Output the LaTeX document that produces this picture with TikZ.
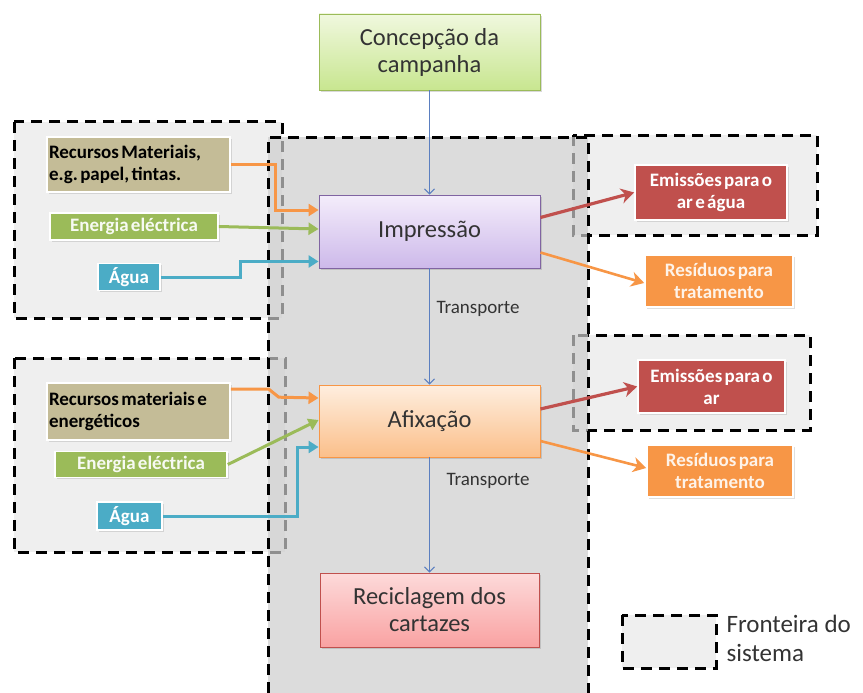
\documentclass[tikz,border=0pt]{standalone}
\usepackage{fontspec}
\setmainfont{Carlito}[BoldFeatures={WordSpace=0.55}]
\usetikzlibrary{arrows.meta,calc,shadows}

\definecolor{bgbound}{HTML}{EFEFEF}
\definecolor{midgray}{HTML}{CDCDCD}
\definecolor{grnedge}{HTML}{9BBB59}
\definecolor{grntop}{HTML}{F0F8DE}
\definecolor{grnbot}{HTML}{C8E690}
\definecolor{purpedge}{HTML}{8064A2}
\definecolor{purptop}{HTML}{F4EDFB}
\definecolor{purpbot}{HTML}{CDB9EA}
\definecolor{orgedge}{HTML}{F79646}
\definecolor{orgtop}{HTML}{FEEEDF}
\definecolor{orgbot}{HTML}{FBBF8A}
\definecolor{rededge}{HTML}{C0504D}
\definecolor{redtop}{HTML}{FDDADA}
\definecolor{redbot}{HTML}{F9A2A2}
\definecolor{khaki}{HTML}{C4BC97}
\definecolor{olive}{HTML}{9BBB59}
\definecolor{teal}{HTML}{4BACC6}
\definecolor{brick}{HTML}{C0504D}
\definecolor{tangerine}{HTML}{F79646}
\definecolor{flowblue}{HTML}{5B7FC0}
\definecolor{maintext}{HTML}{333333}

\begin{document}
\begin{tikzpicture}[x=1pt,y=-1pt,
  bound/.style={draw=black, line width=3pt, dash pattern=on 11pt off 7pt},
  mainbox/.style={minimum width=221pt, minimum height=73pt, inner sep=2pt,
    font=\fontsize{24.5}{27}\selectfont, text=maintext, align=center,
    line width=0.9pt,
    drop shadow={opacity=0.3, shadow xshift=1.5pt, shadow yshift=-2pt}},
  smallbox/.style={font=\bfseries\fontsize{19}{22}\selectfont, draw=white,
    line width=1.6pt, inner sep=2pt, align=center,
    drop shadow={opacity=0.25, shadow xshift=1.5pt, shadow yshift=-1.5pt}},
  fatarrow/.style={line width=3pt, -{Triangle[length=10pt,width=12pt]}},
  outarrow/.style={line width=3.2pt, -{Stealth[length=13pt,width=15pt,inset=4pt]}},
  thinarrow/.style={draw=flowblue, line width=1pt, -{Straight Barb[length=5pt,width=10pt]}},
  lbl/.style={font=\fontsize{19}{22}\selectfont, text=maintext}
]
\useasboundingbox (0,0) rectangle (863,693);

% system boundaries around inputs and outputs
\filldraw[fill=bgbound, bound] (14,122) rectangle (282,318);
\filldraw[fill=bgbound, bound] (14,358) rectangle (285,552);
\filldraw[fill=bgbound, bound] (573,135) rectangle (817,235);
\filldraw[fill=bgbound, bound] (573,335) rectangle (810,430);

% main process boundary (continues past the lower edge)
\fill[midgray, fill opacity=0.7] (268,137) rectangle (588,693);
\draw[bound] (268,693) -- (268,137) -- (588,137) -- (588,693);

% legend
\filldraw[fill=bgbound, bound] (622,615) rectangle (716,668);
\node[anchor=west, align=flush left, font=\fontsize{25}{29}\selectfont, text=maintext]
  (legtxt) at (723,638) {Fronteira do\\sistema};

% process chain
\node[mainbox, draw=grnedge, top color=grntop, bottom color=grnbot,
      minimum height=76pt] (conc) at (429.5,52) {Concepção da\\campanha};
\node[mainbox, draw=purpedge, top color=purptop, bottom color=purpbot]
      (impr) at (429.5,231.5) {Impressão};
\node[mainbox, draw=orgedge, top color=orgtop, bottom color=orgbot,
      minimum height=72pt] (afix) at (429.5,421) {Afixação};
\node[mainbox, draw=rededge, top color=redtop, bottom color=redbot,
      minimum width=219pt, minimum height=74pt] (recic) at (429.5,610)
      {Reciclagem dos\\cartazes};

% inputs to printing
\node[smallbox, fill=khaki, text=black, align=flush left, text width=179pt,
      minimum height=55pt] (rm1) at (138.5,164.5)
      {Recursos Materiais,\\e.g.\ papel, tintas.};
\node[smallbox, fill=olive, text=white!92!olive, minimum width=168pt,
      minimum height=27pt] (ee1) at (134,226.5) {Energia eléctrica};
\node[smallbox, fill=teal, text=white, minimum width=62pt,
      minimum height=27pt] (ag1) at (129,277) {Água};

% inputs to posting
\node[smallbox, fill=khaki, text=black, align=flush left, text width=179pt,
      minimum height=57pt] (rm2) at (138.5,411.5)
      {Recursos materiais e\\energéticos};
\node[smallbox, fill=olive, text=white!92!olive, minimum width=172pt,
      minimum height=26pt] (ee2) at (141,464.5) {Energia eléctrica};
\node[smallbox, fill=teal, text=white, minimum width=65pt,
      minimum height=28pt] (ag2) at (129.5,516) {Água};

% outputs
\node[smallbox, fill=brick, text=white, minimum width=152pt,
      minimum height=55pt] (em1) at (711,192.5) {Emissões para o\\ar e água};
\node[smallbox, fill=tangerine, text=white!88!tangerine, minimum width=148pt,
      minimum height=52pt] (res1) at (719,281) {Resíduos para\\tratamento};
\node[smallbox, fill=brick, text=white, minimum width=147pt,
      minimum height=53pt] (em2) at (711.5,386.5) {Emissões para o\\ar};
\node[smallbox, fill=tangerine, text=white!88!tangerine, minimum width=146pt,
      minimum height=52pt] (res2) at (720,471) {Resíduos para\\tratamento};

% flow along the chain
\draw[thinarrow] (conc) -- (impr);
\draw[thinarrow] (impr) -- (afix);
\draw[thinarrow] (afix) -- (recic);
\node[lbl, anchor=west] (tr1) at (433,309) {Transporte};
\node[lbl, anchor=west] (tr2) at (443,481) {Transporte};

% input connectors
\draw[fatarrow, tangerine] (rm1.east) -- ++(45,0) |- ($(impr.west)+(0,-21.5)$);
\draw[fatarrow, olive] (ee1.east) -- ($(impr.west)+(0,-2.5)$);
\draw[fatarrow, teal] (ag1.east) -- ++(80,0) |- ($(impr.west)+(0,30)$);

\draw[fatarrow, tangerine] ($(rm2.north east)+(0,7)$) -- ++(38,0)
  -- ++(10,8) -- ($(afix.west)+(0,-23)$);
\draw[fatarrow, olive] (ee2.east) -- ($(afix.west)+(0,-1)$);
\draw[fatarrow, teal] (ag2.east) -- ++(135,0) |- ($(afix.west)+(0,26)$);

% output connectors
\draw[outarrow, brick] ($(impr.east)+(0,-14)$) -- (em1.west);
\draw[outarrow, tangerine, line width=2.6pt] ($(impr.east)+(0,21)$) -- ($(res1.west)+(0,2)$);
\draw[outarrow, brick] ($(afix.east)+(0,-12)$) -- (em2.west);
\draw[outarrow, tangerine, line width=2.6pt] ($(afix.east)+(0,20)$) -- ($(res2.west)+(0,-3)$);
\end{tikzpicture}
\end{document}
